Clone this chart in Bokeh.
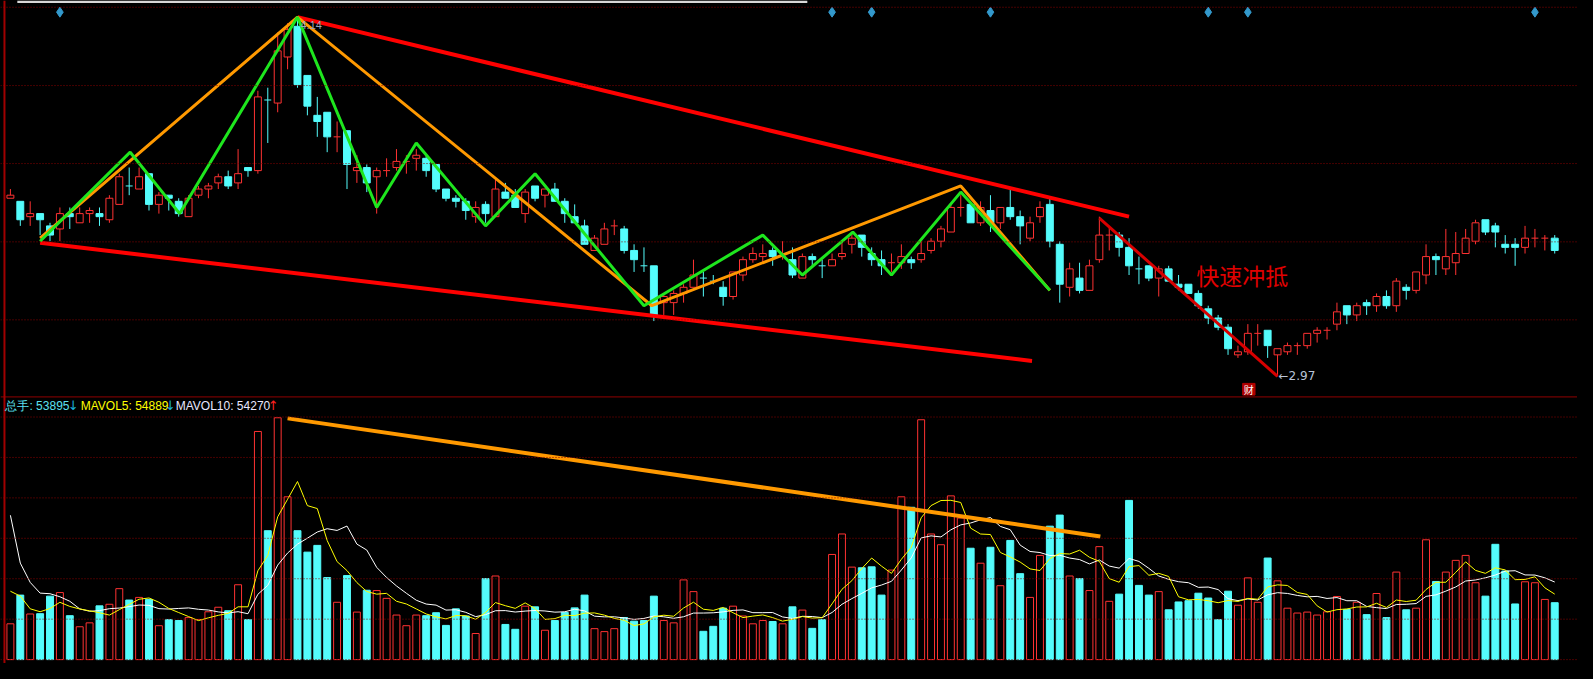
import numpy as np
import pandas as pd
from bokeh.plotting import figure
from bokeh.models import Range1d, Span, Label, BoxAnnotation
from bokeh.embed import file_html
from bokeh.resources import INLINE
from bokeh.core.properties import value

# ---------------- data ----------------
open_ = [3.55, 3.54, 3.49, 3.50, 3.46, 3.45, 3.50, 3.47, 3.50, 3.50,
         3.48, 3.53, 3.59, 3.58, 3.63, 3.53, 3.56, 3.54, 3.49, 3.56,
         3.58, 3.60, 3.62, 3.60, 3.65, 3.64, 3.87, 3.86, 4.01, 4.11,
         3.95, 3.82, 3.83, 3.75, 3.77, 3.64, 3.65, 3.62, 3.64, 3.65,
         3.67, 3.68, 3.68, 3.66, 3.58, 3.55, 3.54, 3.49, 3.53, 3.49,
         3.57, 3.56, 3.50, 3.59, 3.56, 3.58, 3.54, 3.49, 3.46, 3.38,
         3.40, 3.46, 3.45, 3.38, 3.33, 3.33, 3.21, 3.21, 3.24, 3.26,
         3.29, 3.28, 3.26, 3.23, 3.30, 3.35, 3.36, 3.38, 3.36, 3.35,
         3.29, 3.36, 3.33, 3.33, 3.36, 3.40, 3.43, 3.37, 3.35, 3.34,
         3.34, 3.35, 3.35, 3.38, 3.41, 3.44, 3.52, 3.53, 3.47, 3.51,
         3.47, 3.52, 3.49, 3.42, 3.49, 3.53, 3.40, 3.26, 3.29, 3.25,
         3.35, 3.43, 3.43, 3.39, 3.32, 3.33, 3.29, 3.32, 3.27, 3.27,
         3.24, 3.19, 3.16, 3.13, 3.04, 3.05, 3.11, 3.12, 3.04, 3.05,
         3.07, 3.07, 3.11, 3.12, 3.14, 3.20, 3.17, 3.21, 3.20, 3.23,
         3.20, 3.26, 3.25, 3.30, 3.36, 3.32, 3.34, 3.37, 3.41, 3.48,
         3.46, 3.40, 3.40, 3.39, 3.42, 3.42, 3.42]
high = [3.58, 3.54, 3.54, 3.50, 3.47, 3.52, 3.52, 3.52, 3.52, 3.52,
        3.56, 3.63, 3.65, 3.65, 3.63, 3.57, 3.56, 3.55, 3.56, 3.59,
        3.60, 3.63, 3.64, 3.71, 3.65, 3.90, 3.91, 4.09, 4.12, 4.14,
        3.95, 3.88, 3.83, 3.80, 3.77, 3.69, 3.66, 3.65, 3.68, 3.71,
        3.69, 3.71, 3.69, 3.66, 3.58, 3.56, 3.55, 3.54, 3.54, 3.61,
        3.60, 3.58, 3.58, 3.59, 3.58, 3.60, 3.55, 3.53, 3.48, 3.43,
        3.47, 3.48, 3.46, 3.40, 3.39, 3.33, 3.24, 3.25, 3.27, 3.35,
        3.31, 3.30, 3.28, 3.31, 3.36, 3.39, 3.40, 3.39, 3.41, 3.39,
        3.37, 3.37, 3.35, 3.37, 3.41, 3.44, 3.43, 3.39, 3.38, 3.37,
        3.40, 3.36, 3.41, 3.42, 3.46, 3.53, 3.56, 3.53, 3.54, 3.56,
        3.52, 3.58, 3.51, 3.49, 3.54, 3.55, 3.41, 3.34, 3.34, 3.35,
        3.49, 3.46, 3.44, 3.42, 3.36, 3.33, 3.33, 3.33, 3.30, 3.27,
        3.25, 3.20, 3.17, 3.14, 3.07, 3.14, 3.14, 3.12, 3.06, 3.08,
        3.08, 3.11, 3.13, 3.13, 3.21, 3.20, 3.21, 3.22, 3.24, 3.25,
        3.29, 3.27, 3.31, 3.40, 3.37, 3.45, 3.44, 3.45, 3.48, 3.48,
        3.47, 3.43, 3.42, 3.46, 3.45, 3.43, 3.43]
low = [3.55, 3.46, 3.46, 3.43, 3.41, 3.41, 3.45, 3.47, 3.47, 3.46,
       3.47, 3.53, 3.56, 3.58, 3.51, 3.50, 3.51, 3.49, 3.49, 3.55,
       3.55, 3.58, 3.58, 3.58, 3.62, 3.63, 3.73, 3.83, 3.97, 3.91,
       3.82, 3.75, 3.70, 3.70, 3.58, 3.60, 3.57, 3.50, 3.62, 3.64,
       3.63, 3.64, 3.62, 3.57, 3.54, 3.52, 3.48, 3.47, 3.47, 3.49,
       3.55, 3.52, 3.47, 3.54, 3.52, 3.54, 3.47, 3.47, 3.40, 3.38,
       3.40, 3.43, 3.37, 3.31, 3.31, 3.15, 3.17, 3.17, 3.21, 3.26,
       3.23, 3.27, 3.20, 3.22, 3.28, 3.34, 3.34, 3.33, 3.35, 3.29,
       3.29, 3.33, 3.29, 3.33, 3.35, 3.37, 3.36, 3.33, 3.30, 3.31,
       3.32, 3.32, 3.34, 3.37, 3.39, 3.44, 3.49, 3.47, 3.46, 3.44,
       3.45, 3.48, 3.40, 3.41, 3.47, 3.39, 3.21, 3.23, 3.24, 3.25,
       3.34, 3.38, 3.36, 3.30, 3.27, 3.28, 3.23, 3.28, 3.25, 3.24,
       3.19, 3.14, 3.12, 3.04, 3.03, 3.04, 3.07, 3.03, 2.97, 3.04,
       3.04, 3.06, 3.08, 3.09, 3.12, 3.14, 3.15, 3.17, 3.18, 3.19,
       3.18, 3.22, 3.24, 3.27, 3.30, 3.30, 3.30, 3.37, 3.40, 3.43,
       3.39, 3.37, 3.33, 3.37, 3.39, 3.38, 3.37]
close = [3.56, 3.48, 3.50, 3.48, 3.43, 3.50, 3.49, 3.50, 3.51, 3.49,
         3.55, 3.62, 3.59, 3.62, 3.53, 3.56, 3.55, 3.50, 3.55, 3.58,
         3.59, 3.62, 3.59, 3.63, 3.64, 3.88, 3.87, 4.03, 4.10, 3.92,
         3.85, 3.80, 3.75, 3.75, 3.66, 3.65, 3.60, 3.64, 3.64, 3.67,
         3.67, 3.69, 3.64, 3.58, 3.55, 3.54, 3.51, 3.52, 3.50, 3.58,
         3.55, 3.52, 3.57, 3.55, 3.58, 3.54, 3.50, 3.47, 3.40, 3.42,
         3.45, 3.46, 3.38, 3.35, 3.33, 3.17, 3.23, 3.24, 3.26, 3.30,
         3.29, 3.28, 3.23, 3.31, 3.35, 3.37, 3.37, 3.36, 3.36, 3.30,
         3.36, 3.35, 3.33, 3.35, 3.37, 3.42, 3.39, 3.35, 3.33, 3.34,
         3.36, 3.34, 3.37, 3.41, 3.45, 3.52, 3.52, 3.47, 3.52, 3.47,
         3.52, 3.49, 3.46, 3.47, 3.52, 3.41, 3.27, 3.32, 3.25, 3.33,
         3.43, 3.43, 3.39, 3.33, 3.32, 3.29, 3.32, 3.28, 3.26, 3.24,
         3.20, 3.16, 3.13, 3.06, 3.05, 3.11, 3.11, 3.07, 3.06, 3.07,
         3.07, 3.11, 3.12, 3.12, 3.18, 3.17, 3.20, 3.20, 3.23, 3.20,
         3.28, 3.25, 3.31, 3.36, 3.35, 3.36, 3.37, 3.42, 3.47, 3.44,
         3.44, 3.39, 3.39, 3.42, 3.42, 3.42, 3.38]
volume = [33900, 61100, 43200, 43500, 60100, 63500, 41600, 31100, 34800, 50900,
          52400, 67200, 56400, 58900, 57000, 32100, 37900, 37000, 39800, 37900,
          45300, 49600, 46300, 70900, 37900, 216100, 122100, 229100, 154200, 122100,
          101800, 108200, 77700, 54300, 79600, 45000, 65700, 65400, 58000, 42200,
          32100, 42200, 41600, 44400, 32400, 48100, 41300, 24700, 76800, 79200,
          33300, 28700, 50600, 50000, 27800, 37000, 44700, 49000, 61100, 29300,
          26500, 29300, 39800, 36400, 37000, 60100, 37000, 34800, 75500, 64400,
          26800, 31500, 48700, 50600, 41300, 33900, 37000, 36100, 33900, 50000,
          46900, 29600, 37900, 99600, 119000, 87600, 87000, 87900, 61100, 84800,
          154200, 144300, 227200, 119000, 108800, 155100, 134100, 105500, 91300, 106400,
          70000, 112900, 81400, 58900, 98700, 126400, 136900, 79200, 76800, 65400,
          107000, 55200, 62000, 150800, 70300, 61100, 64400, 47200, 54600, 55800,
          62900, 58300, 37900, 64800, 51500, 77400, 54300, 96200, 74600, 48700,
          44100, 45000, 42200, 45300, 59800, 47500, 54300, 42600, 62600, 39800,
          82900, 47200, 48700, 113500, 74000, 82900, 94000, 98700, 72800, 60100,
          109200, 83900, 52700, 73700, 72800, 57000, 53895]
# volumes of the sessions just before the visible window (only feed the averages)
prior_volume = [514300, 225700, 145200, 65700, 92500, 84200, 103300, 57400, 45000]

# drawn annotations (bar index, price)
green_x = [3, 12.1, 17.1, 29, 37, 41, 48, 53, 64, 76, 80, 85.1, 89, 96, 105]
green_y = [3.41, 3.70, 3.50, 4.14, 3.52, 3.73, 3.46, 3.63, 3.20, 3.43, 3.30, 3.44, 3.30, 3.57, 3.25]
orange_x = [3, 29, 64.8, 96, 105]
orange_y = [3.42, 4.14, 3.20, 3.59, 3.25]
upper_x, upper_y = [29, 113], [4.14, 3.49]
lower_x, lower_y = [3, 103.2], [3.405, 3.02]
fast_x, fast_y = [110, 128], [3.485, 2.97]
vol_trend_x, vol_trend_y = [28, 110.1], [228500, 116600]
event_idx = [5, 83, 87, 99, 121, 125, 154]
report_idx = 125.1

price_grid = [4.172, 3.917, 3.663, 3.408, 3.154]
vol_grid = [0, 38300, 76600, 114900, 153200, 191500, 229800]

# ---------------- derived ----------------
o = np.array(open_); h = np.array(high); l = np.array(low); c = np.array(close)
v = np.array(volume, dtype=float)
n = len(c)
x = np.arange(n)
prev_c = np.concatenate([[c[0]], c[:-1]])
up = (c > o) | ((c == o) & (c >= prev_c))
doji = (c == o)
top = np.maximum(o, c)
bot = np.minimum(o, c)

allv = pd.Series(prior_volume + volume, dtype=float)
k = len(prior_volume)
ma5 = allv.rolling(5).mean().values[k:]
ma10 = allv.rolling(10).mean().values[k:]

RED = "#ff3232"
CYAN = "#54fcfc"
GRID = "#8a0000"

p = figure(width=1577, height=663, output_backend="svg", toolbar_location=None,
           x_range=Range1d(-1, 158.3), y_range=Range1d(2.0348, 4.194),
           x_axis_location=None, y_axis_location=None, min_border=0,
           background_fill_color="black", border_fill_color="black",
           outline_line_color=None)
p.extra_y_ranges = {"vol": Range1d(-3700, 624375)}
p.xgrid.visible = False
p.ygrid.visible = False

# grids and separators
for g in price_grid:
    p.add_layout(Span(location=g, dimension="width", line_color=GRID,
                      line_dash="1 2", line_width=1))
for g in vol_grid:
    p.add_layout(Span(location=g, dimension="width", line_color=GRID,
                      line_dash="1 2", line_width=1, y_range_name="vol"))
p.add_layout(Span(location=2.903, dimension="width", line_color="#900000", line_width=1))
p.add_layout(Span(location=-0.6, dimension="height", line_color="#a00000", line_width=2))
p.add_layout(BoxAnnotation(left=0.7, right=80.5, top=4.194, bottom=4.186,
                           fill_color="#d8d8d8", fill_alpha=1, line_alpha=0))

# peak label (under the lines)
p.add_layout(Label(x=29.3, y=4.115, text="4.14", text_color="#9aa4b8",
                   text_font_size="11px", text_baseline="middle",
                   text_font="Liberation Sans"))

# ---------------- candles ----------------
nd = ~doji
wick_col = np.where(up, RED, CYAN)
p.segment(x0=x, y0=h, x1=x, y1=top, line_color=list(wick_col), line_width=1)
p.segment(x0=x, y0=bot, x1=x, y1=l, line_color=list(wick_col), line_width=1)
m = up & nd
p.vbar(x=x[m], width=0.7, top=top[m], bottom=bot[m], fill_color="black",
       line_color=RED, line_width=1)
m = (~up) & nd
p.vbar(x=x[m], width=0.7, top=top[m], bottom=bot[m], fill_color=CYAN,
       line_color=CYAN, line_width=1)
dcol = [RED if u else CYAN for u in up[doji]]
p.segment(x0=x[doji] - 0.35, y0=c[doji], x1=x[doji] + 0.35, y1=c[doji],
          line_color=dcol, line_width=1)

# ---------------- volume ----------------
p.vbar(x=x[up], width=0.7, top=v[up], bottom=0, fill_color="black",
       line_color=RED, line_width=1, y_range_name="vol")
p.vbar(x=x[~up], width=0.7, top=v[~up], bottom=0, fill_color=CYAN,
       line_color=CYAN, line_width=1, y_range_name="vol")
p.line(x, ma10, line_color="white", line_width=1, y_range_name="vol")
p.line(x, ma5, line_color="#ffff00", line_width=1, y_range_name="vol")

# ---------------- drawn trend lines ----------------
p.line(lower_x, lower_y, line_color="#ff0000", line_width=4)
p.line(upper_x, upper_y, line_color="#ff0000", line_width=4)
p.line(orange_x, orange_y, line_color="#ff9900", line_width=3)
p.line(green_x, green_y, line_color="#1ee61e", line_width=3)
p.line(fast_x, fast_y, line_color="#d80000", line_width=3)
p.line(vol_trend_x, vol_trend_y, line_color="#ff9900", line_width=4, y_range_name="vol")

# event markers
p.scatter(event_idx, [4.156] * len(event_idx), marker="diamond", size=10,
          fill_color="#3399cc", line_color="#3399cc")

# report marker
p.rect(x=[report_idx], y=[2.928], width=1.25, height=0.038,
       fill_color="#b00000", line_color="#b00000")
p.text(x=[report_idx], y=[2.928], text=["财"], text_color="white",
       text_font_size="10px", text_align="center", text_baseline="middle",
       text_font=value("Noto Sans CJK SC"))

# low label
p.add_layout(Label(x=128.1, y=2.97, text="\u21902.97", text_color="#b8c4d8",
                   text_font_size="12px", text_baseline="middle",
                   text_font="DejaVu Sans"))

# annotation text
p.add_layout(Label(x=119.8, y=3.30, text="快速冲抵", text_color="#e00000",
                   text_font_size="23px", text_baseline="middle",
                   text_font="Noto Sans CJK SC"))

# header of volume pane
hy = 240500
hdr = [(-0.5, "总手: 53895", "#5ce0f0", "Liberation Sans"),
       (5.8, "\u2193", "#1ab0d8", "DejaVu Sans"),
       (7.1, "MAVOL5: 54889", "#ffff00", "Liberation Sans"),
       (15.6, "\u2193", "#1ab0d8", "DejaVu Sans"),
       (16.7, "MAVOL10: 54270", "#e8e8ff", "Liberation Sans"),
       (26.0, "\u2191", "#ff2020", "DejaVu Sans")]
for hx, t, col, fnt in hdr:
    p.add_layout(Label(x=hx, y=hy, y_range_name="vol", text=t, text_color=col,
                       text_font_size="13px" if fnt == "DejaVu Sans" else "12px",
                       text_baseline="middle", text_font=fnt))

html = file_html(p, INLINE)
html = html.replace("</head>", "<style>body{background:#000000;}</style></head>", 1)
open("out.html", "w").write(html)
